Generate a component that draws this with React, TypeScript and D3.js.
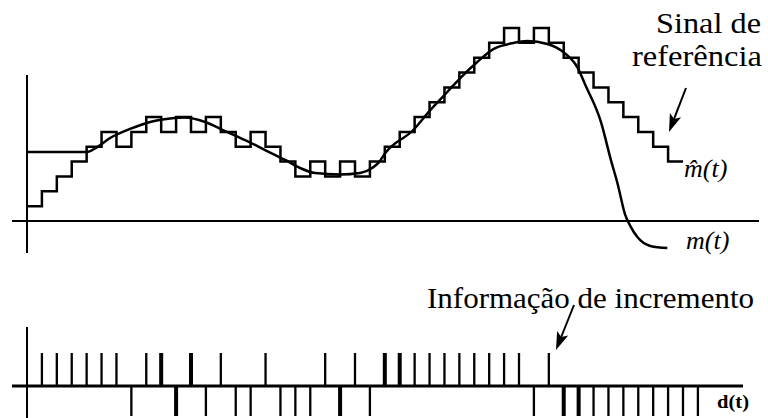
import React from 'react';
import * as d3 from 'd3';

// Sample instants are t = 1..45 (t = 0 at the vertical axis); one unit = one sampling period
// Increment pulses d(t): +1 = positive pulse, -1 = negative pulse (45 samples)
const pulseSigns = [
  1, 1, 1, 1, 1, 1, -1, 1, 1, -1, 1, -1, 1, -1, -1, 1, -1, -1, -1, 1, -1, 1, -1,
  1, 1, 1, 1, 1, 1, 1, 1, 1, 1, -1, 1, -1, -1, -1, -1, -1, -1, -1, -1, -1, -1,
];
// Reconstructed staircase m^(t), level (in step units) held from t = i to i+1
const stairLevels = [
  1, 2, 3, 4, 5, 6, 5, 6, 7, 6, 7, 6, 7, 6, 5, 6, 5, 4, 3, 4, 3, 4, 3, 4, 5, 6, 7, 8,
  9, 10, 11, 12, 13, 12, 13, 12, 11, 10, 9, 8, 7, 6, 5, 4,
];
// Message signal m(t): time (sampling periods) and amplitude (step units)
const curveT = [
  0, 4.03, 4.7, 5.57, 6.91, 8.26, 9.6, 10.6, 11.95, 13.29, 14.63, 15.97, 17.32, 18.32,
  19.33, 21.0, 22.35, 23.15, 23.6, 24.03, 25.91, 27.05, 28.19, 29.06, 30.2, 31.28,
  32.62, 33.56, 34.9, 35.97, 36.91, 37.45, 38.52, 39.13, 39.6, 40.13, 40.47, 40.94,
  41.81, 42.95,
];
const curveM = [
  4.65, 4.65, 4.98, 5.59, 6.2, 6.67, 6.9, 6.97, 6.67, 6.06, 5.45, 4.78, 4.11, 3.57,
  3.23, 3.13, 3.23, 3.57, 3.95, 4.58, 6.13, 7.47, 8.69, 9.63, 10.71, 11.58, 11.99,
  12.12, 11.92, 11.38, 10.37, 9.16, 6.6, 4.24, 2.56, 0.4, -0.34, -1.08, -1.68, -1.82,
];
const labelRef = ['Sinal de', 'referência'];
const labelInc = 'Informação de incremento';
const labelMhat = 'm̂(t)';
const labelM = 'm(t)';
const labelD = 'd(t)';

const THICK = new Set([8, 9, 10, 20, 23, 24, 35, 36]);

function Arrow({ x1, y1, x2, y2 }: { x1: number; y1: number; x2: number; y2: number }) {
  const dx = x2 - x1;
  const dy = y2 - y1;
  const len = Math.hypot(dx, dy);
  const ux = dx / len;
  const uy = dy / len;
  const hl = 18;
  const hw = 6;
  const bx = x2 - ux * hl;
  const by = y2 - uy * hl;
  const pts = [
    [x2, y2],
    [bx - uy * hw, by + ux * hw],
    [bx + ux * 4, by + uy * 4],
    [bx + uy * hw, by - ux * hw],
  ]
    .map((p) => p.join(','))
    .join(' ');
  return (
    <g>
      <line x1={x1} y1={y1} x2={bx + ux * 4} y2={by + uy * 4} stroke="#000" strokeWidth={2} />
      <polygon points={pts} fill="#000" />
    </g>
  );
}

export default function App() {
  const W = 768;
  const H = 418;
  const x = d3.scaleLinear().domain([0, 44]).range([27, 683]);
  const y = d3.scaleLinear().domain([0, 13]).range([221, 28]);
  const yp = d3.scaleLinear().domain([-1, 0, 1]).range([416, 386, 353]);

  const stairPts: [number, number][] = stairLevels.map((l, i) => [i, l]);
  stairPts.push([stairLevels.length, stairLevels[stairLevels.length - 1]]);
  const stairPath = d3
    .line<[number, number]>()
    .x((d) => x(d[0]))
    .y((d) => y(d[1]))
    .curve(d3.curveStepAfter)(stairPts) as string;

  const curvePts: [number, number][] = curveT.map((t, i) => [t, curveM[i]]);
  const curvePath = d3
    .line<[number, number]>()
    .x((d) => x(d[0]))
    .y((d) => y(d[1]))
    .curve(d3.curveMonotoneX)(curvePts) as string;

  const font = "'Liberation Serif', 'Times New Roman', serif";

  return (
    <svg
      width={W}
      height={H}
      viewBox={`0 0 ${W} ${H}`}
      style={{ position: 'absolute', left: 0, top: 0, background: '#fff' }}
    >
      <rect x={0} y={0} width={W} height={H} fill="#fff" />
      {/* top axes */}
      <line x1={x(0)} y1={75} x2={x(0)} y2={253} stroke="#000" strokeWidth={2} />
      <line x1={12} y1={y(0)} x2={759} y2={y(0)} stroke="#000" strokeWidth={2} />
      {/* message signal */}
      <path d={curvePath} fill="none" stroke="#000" strokeWidth={2.5} />
      {/* staircase */}
      <path d={stairPath} fill="none" stroke="#000" strokeWidth={2.5} />

      {/* bottom axes */}
      <line x1={x(0)} y1={327} x2={x(0)} y2={418} stroke="#000" strokeWidth={2} />
      <line x1={12} y1={yp(0)} x2={743} y2={yp(0)} stroke="#000" strokeWidth={3} />
      {pulseSigns.map((s, k) => {
        const w = THICK.has(k) ? 4 : 2.3;
        const y0 = yp(0);
        const y1 = yp(s);
        return (
          <rect
            key={k}
            x={x(k + 1) - w / 2}
            y={Math.min(y0, y1)}
            width={w}
            height={Math.abs(y1 - y0)}
            fill="#000"
          />
        );
      })}

      {/* labels */}
      <text x={656} y={33} fontFamily={font} fontSize={30} textLength={105} lengthAdjust="spacingAndGlyphs">
        {labelRef[0]}
      </text>
      <text x={632} y={66} fontFamily={font} fontSize={30} textLength={130} lengthAdjust="spacingAndGlyphs">
        {labelRef[1]}
      </text>
      <Arrow x1={686} y1={88} x2={669} y2={132} />

      <text x={684} y={177} fontFamily={font} fontSize={26} fontStyle="italic">
        {labelMhat}
      </text>
      <text x={686} y={249} fontFamily={font} fontSize={26} fontStyle="italic">
        {labelM}
      </text>

      <text x={427} y={308} fontFamily={font} fontSize={30} textLength={327} lengthAdjust="spacingAndGlyphs">
        {labelInc}
      </text>
      <Arrow x1={574} y1={305} x2={556} y2={350} />

      <text x={717} y={408} fontFamily={font} fontSize={19} fontWeight="bold" textLength={32} lengthAdjust="spacingAndGlyphs">
        {labelD}
      </text>
    </svg>
  );
}
